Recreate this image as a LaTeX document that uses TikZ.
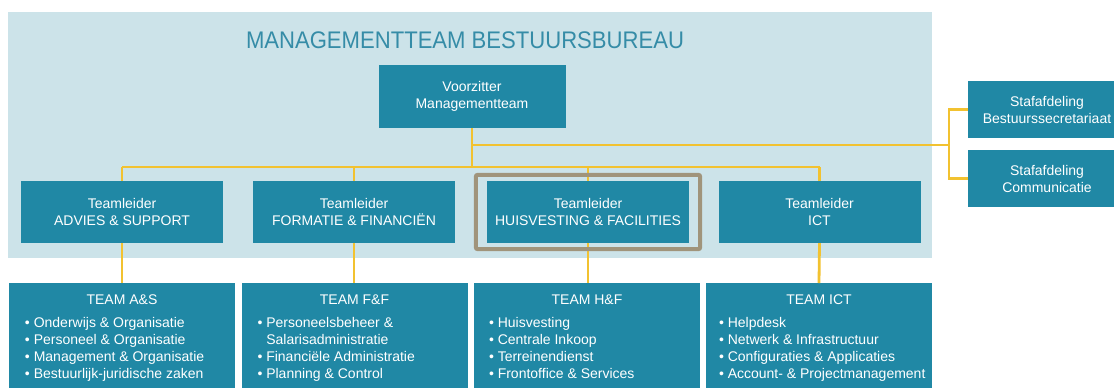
\documentclass[tikz,border=0pt]{standalone}
\usepackage{fontspec}
\setmainfont{Liberation Sans}
\newfontfamily\headfont[FakeStretch=0.92]{Liberation Sans}
\usepackage{xcolor}
\usepackage{tikz}
\usetikzlibrary{positioning, fit}

\definecolor{boxteal}{HTML}{2088A5}
\definecolor{panelblue}{HTML}{CCE3E9}
\definecolor{linkyellow}{HTML}{F2C230}
\definecolor{framebrown}{HTML}{A0947B}
\definecolor{headteal}{HTML}{358CA7}

\begin{document}
\begin{tikzpicture}[x=1bp,y=-1bp,
  every node/.style={font=\fontsize{14bp}{17bp}\selectfont, text=white, inner sep=0pt},
  unit/.style={fill=boxteal, align=center, minimum width=202bp, minimum height=62bp},
  chair/.style={unit, minimum width=187bp, minimum height=63bp},
  staff/.style={unit, minimum width=158bp, minimum height=57bp},
  team/.style={fill=boxteal, anchor=north, minimum width=226bp, minimum height=110bp},
  teamhead/.style={anchor=base},
  teamlist/.style={anchor=north west, align=left},
  link/.style={draw=linkyellow, line width=2.8bp},
  spotlight/.style={draw=framebrown, line width=4bp, rounded corners=2bp}]
\useasboundingbox (0,0) rectangle (1114,387);
\fill[panelblue] (8,12) rectangle (932,258);
\node[anchor=base, text=headteal, font=\headfont\fontsize{24bp}{28bp}\selectfont] (heading) at (465,48) {MANAGEMENTTEAM BESTUURSBUREAU};

% management team
\node[chair] (chair) at (472,96.5) {Voorzitter\\Managementteam};
\node[unit] (tl as) at (122,212) {Teamleider\\ADVIES \& SUPPORT};
\node[unit] (tl ff) at (354,212) {Teamleider\\FORMATIE \& FINANCIËN};
\node[unit] (tl hf) at (588,212) {Teamleider\\HUISVESTING \& FACILITIES};
\node[unit] (tl ict) at (819.5,212) {Teamleider\\ICT};

% staff
\node[staff] (staff bs) at (1047,109.5) {Stafafdeling\\Bestuurssecretariaat};
\node[staff] (staff com) at (1047,178.5) {Stafafdeling\\Communicatie};

% teams
\node[team] (team as) at (122,283) {};
\node[team] (team ff) at (354.5,283) {};
\node[team] (team hf) at (587,283) {};
\node[team] (team ict) at (819,283) {};
\node[teamhead] (team as head) at ([yshift=-21bp]team as.north) {TEAM A\&S};
\node[teamhead] (team ff head) at ([yshift=-21bp]team ff.north) {TEAM F\&F};
\node[teamhead] (team hf head) at ([yshift=-21bp]team hf.north) {TEAM H\&F};
\node[teamhead] (team ict head) at ([yshift=-21bp]team ict.north) {TEAM ICT};
\node[teamlist] (team as list) at ([xshift=16bp,yshift=-34bp]team as.north west)
  {• Onderwijs \& Organisatie\\• Personeel \& Organisatie\\• Management \& Organisatie\\• Bestuurlijk-juridische zaken};
\node[teamlist] (team ff list) at ([xshift=16bp,yshift=-34bp]team ff.north west)
  {• Personeelsbeheer \&\\\phantom{• }Salarisadministratie\\• Financiële Administratie\\• Planning \& Control};
\node[teamlist] (team hf list) at ([xshift=15bp,yshift=-34bp]team hf.north west)
  {• Huisvesting\\• Centrale Inkoop\\• Terreinendienst\\• Frontoffice \& Services};
\node[teamlist] (team ict list) at ([xshift=13bp,yshift=-34bp]team ict.north west)
  {• Helpdesk\\• Netwerk \& Infrastructuur\\• Configuraties \& Applicaties\\• Account- \& Projectmanagement};

% connectors
\coordinate (bus) at (472,167);
\coordinate (staff bus) at (949,145);
\draw[link] (chair.south) -- (bus);
\draw[link] (tl as.north |- bus) -- (tl ict.north |- bus);
\foreach \lead in {tl as, tl ff, tl hf, tl ict}
  \draw[link] (\lead.north) -- (\lead.north |- bus);
\draw[link] (chair.south |- staff bus) -- (staff bus);
\draw[link] (staff bs.west) -| (staff bus) |- (staff com.west);
\draw[link] (tl as.south) -- (team as.north);
\draw[link] (tl ff.south) -- (tl ff.south |- team ff.north);
\draw[link] (tl hf.south) -- (tl hf.south |- team hf.north);
\draw[link] (tl ict.south) -- (team ict.north);

\node[spotlight, fit=(tl hf), inner xsep=11bp, inner ysep=6bp] (tl hf frame) {};
\end{tikzpicture}
\end{document}
